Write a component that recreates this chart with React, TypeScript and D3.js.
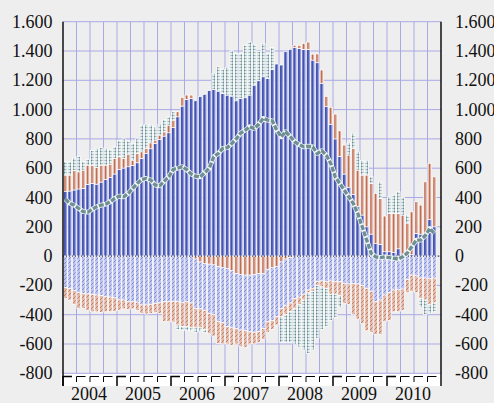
import React from 'react'
import * as d3 from 'd3'

const W = 494
const H = 403

const years = ['2004', '2005', '2006', '2007', '2008', '2009', '2010']
const yTickValues = [-800, -600, -400, -200, 0, 200, 400, 600, 800, 1000, 1200, 1400, 1600]

// monthly values, Jan 2004 - Nov 2010
const blueBars = [440, 444, 451, 458, 462, 489, 496, 491, 505, 523,
  537, 560, 591, 601, 610, 619, 637, 667, 700, 733,
  769, 796, 819, 842, 878, 951, 1024, 1070, 1076, 1060,
  1088, 1104, 1129, 1138, 1126, 1110, 1099, 1092, 1060, 1076,
  1081, 1099, 1167, 1197, 1224, 1213, 1274, 1311, 1304, 1395,
  1411, 1424, 1418, 1411, 1411, 1338, 1320, 1180, 1020, 900,
  800, 680, 560, 470, 420, 340, 280, 200, 150, 85,
  80, 30, 30, 25, 50, 15, 15, 10, 155, 150,
  155, 250, 200]

const salmonBars = [113, 109, 132, 117, 125, 132, 124, 114, 116, 98,
  91, 107, 87, 66, 86, 36, 64, 45, 35, 40,
  23, 30, 29, 52, 50, 34, 59, 29, 23, -20,
  -40, -50, -55, -60, -70, -80, -85, -100, -120, -125,
  -130, -130, -125, -120, -120, -90, -80, -70, -40, -20,
  -10, 15, 20, 40, 50, 40, 60, 90, 70, 115,
  169, 175, 198, 220, 315, 247, 273, 353, 346, 343,
  314, 243, 261, 266, 241, 265, 210, 292, 216, 198,
  352, 383, 341]

const tealBars = [91, 91, 87, 105, 60, 40, 100, 130, 119, 114,
  97, 78, 112, 133, 89, 115, 99, 183, 165, 122,
  88, 74, 82, 56, 57, -30, -25, -30, -20, -30,
  -25, -20, 0, 109, 166, 164, 190, 309, 323, 307,
  359, 364, 280, 200, 227, 170, 150, 0, -176, -190,
  -210, -240, -290, -340, -415, -400, -360, -290, -260, -180,
  -160, -80, 0, 83, 103, 125, 100, 100, 45, 0,
  113, 0, 114, 125, 148, 120, 55, 0, 0, -60,
  -100, -60, -60]

const blueNeg = [-215, -221, -235, -250, -255, -258, -262, -266, -270, -278,
  -280, -285, -300, -300, -312, -312, -315, -334, -334, -330,
  -323, -320, -312, -312, -310, -312, -315, -312, -320, -337,
  -320, -320, -336, -340, -378, -375, -397, -390, -375, -380,
  -380, -387, -395, -397, -374, -358, -360, -344, -317, -320,
  -310, -289, -280, -260, -232, -220, -175, -170, -175, -170,
  -172, -175, -187, -190, -187, -190, -200, -220, -240, -312,
  -300, -266, -250, -232, -230, -225, -160, -130, -135, -150,
  -150, -155, -150]

const salmonNeg = [-75, -79, -95, -107, -102, -112, -118, -114, -115, -102,
  -100, -93, -69, -60, -53, -48, -55, -57, -61, -61,
  -62, -71, -136, -136, -140, -159, -165, -168, -170, -133,
  -130, -130, -139, -146, -148, -145, -118, -120, -105, -114,
  -115, -83, -80, -73, -76, -72, -60, -56, -57, -60,
  -60, -71, -50, -40, -18, -20, -25, -40, -45, -90,
  -88, -95, -136, -140, -213, -240, -260, -290, -280, -223,
  -235, -182, -190, -148, -150, -145, -90, -110, -115, -140,
  -150, -175, -170]

const lineValues = [390, 360, 348, 325, 303, 300, 320, 337, 348, 355,
  371, 394, 410, 405, 428, 462, 496, 523, 530, 520,
  485, 480, 512, 541, 592, 600, 610, 590, 560, 545,
  541, 570, 600, 678, 700, 735, 740, 769, 800, 840,
  860, 883, 870, 900, 940, 928, 923, 860, 815, 850,
  815, 780, 760, 746, 750, 746, 700, 720, 689, 633,
  541, 496, 450, 405, 360, 291, 200, 109, 18, -5,
  -10, -5, -10, -15, -20, -5, 20, 64, 109, 110,
  140, 189, 155]

const fmt = d3.formatLocale({
  decimal: ',', thousands: '.', grouping: [3], currency: ['', ''], minus: '-',
}).format(',d')

const App = () => {
  const left = 63
  const right = 441
  const months = d3.range(years.length * 12)

  const x = d3.scaleBand<number>().domain(months).range([left, right]).padding(0)
  const y = d3.scaleLinear().domain([-800, 1600]).range([373.3, 21.7])
  const bw = x.bandwidth()

  const rows = blueBars.map((v, i) => ({
    A: v, B: salmonBars[i], D: blueNeg[i], E: salmonNeg[i], C: tealBars[i],
  }))
  const keys = ['A', 'B', 'D', 'E', 'C']
  const stacked = d3.stack<any>().keys(keys).offset(d3.stackOffsetDiverging)(rows)

  const fills: Record<string, string> = {
    A: '#4453b2', B: '#dcae9b', D: 'url(#pD)', E: 'url(#pE)', C: 'url(#pC)',
  }

  const line = d3.line<number>()
    .x((_, i) => (x(i) as number) + bw / 2)
    .y(v => y(v))

  const quarters = d3.range(0, years.length * 12 + 1, 3)
  const textStyle = { fontFamily: 'Liberation Serif, Times New Roman, serif', fontSize: '18px' }

  return (
    <svg width={W} height={H} style={{ position: 'absolute', left: 0, top: 0 }}>
      <defs>
        <pattern id="pC" patternUnits="userSpaceOnUse" width="3" height="3">
          <rect width="3" height="3" fill="#e3ebed" />
          <rect x="0" y="1" width="3" height="1" fill="#a8bfc2" />
          <rect x="1" y="0" width="1" height="3" fill="#a8bfc2" />
          <rect x="1" y="1" width="1" height="1" fill="#6c8e92" />
        </pattern>
        <pattern id="pD" patternUnits="userSpaceOnUse" width="4" height="4">
          <rect width="4" height="4" fill="#bcc2ee" />
          <path d="M-1,1 L1,-1 M0,4 L4,0 M3,5 L5,3" stroke="#6a76c9" strokeWidth="0.7" />
        </pattern>
        <pattern id="pE" patternUnits="userSpaceOnUse" width="4" height="4">
          <rect width="4" height="4" fill="#e3baa8" />
          <path d="M-1,1 L1,-1 M0,4 L4,0 M3,5 L5,3" stroke="#b5654f" strokeWidth="0.7" />
        </pattern>
      </defs>

      <rect width={W} height={H} fill="#eeeeee" />

      {/* grid */}
      {yTickValues.map(t => (
        <line key={'h' + t} x1={left} x2={right} y1={y(t)} y2={y(t)} stroke="#a9a9e6" strokeWidth={1} />
      ))}
      {quarters.slice(1, -1).map(q => (
        <line key={'v' + q} x1={x(q)} x2={x(q)} y1={y(1600)} y2={y(-800)} stroke="#a9a9e6" strokeWidth={1} />
      ))}

      {/* stacked bars */}
      {stacked.map(layer => (
        <g key={layer.key}>
          {layer.map((d, i) => {
            const y0 = y(d[0])
            const y1 = y(d[1])
            const h = Math.abs(y0 - y1)
            if (h < 0.2) return null
            const bx = (x(i) as number) + 0.4
            const top = Math.min(y0, y1)
            return (
              <g key={i}>
                <rect x={bx} y={top} width={bw - 0.8} height={h}
                  fill={fills[layer.key]} stroke="#ffffff" strokeWidth={0.7} />
                {layer.key === 'A' && (
                  <rect x={bx + bw - 2.1} y={top + 0.4} width={1} height={Math.max(h - 0.8, 0)} fill="#9ba6e0" />
                )}
                {layer.key === 'B' && (
                  <rect x={bx + 1.2} y={top + 0.4} width={0.7} height={Math.max(h - 0.8, 0)} fill="#b34e36" />
                )}
              </g>
            )
          })}
        </g>
      ))}

      {/* zero line */}
      <line x1={left} x2={right} y1={y(0)} y2={y(0)} stroke="#222" strokeWidth={1} strokeDasharray="1 2" />

      {/* line series */}
      <path d={line(lineValues) || ''} fill="none" stroke="#f4f6f6" strokeWidth={4.8} strokeLinejoin="round" />
      <path d={line(lineValues) || ''} fill="none" stroke="#6f9093" strokeWidth={3.4} strokeDasharray="5 1.6" />

      {/* bottom band with ticks */}
      <rect x={left - 2} y={374} width={right - left + 3} height={12} fill="#ffffff" />
      {quarters.slice(0, -1).map(q => {
        const qx = x(q) as number
        const isYear = q % 12 === 0
        return (
          <path key={'t' + q} d={`M${qx},${isYear ? 386 : 382}V376.5H${qx + 9}`}
            fill="none" stroke="#000" strokeWidth={isYear ? 1.5 : 1} />
        )
      })}

      {/* axes */}
      <line x1={left} x2={left} y1={y(1600)} y2={386} stroke="#000" strokeWidth={1.4} />
      <line x1={right} x2={right} y1={y(1600)} y2={386} stroke="#000" strokeWidth={1.4} />

      {yTickValues.map(t => (
        <g key={'l' + t}>
          <text x={52.5} y={y(t) + 6} textAnchor="end" style={textStyle} fill="#111">{fmt(t)}</text>
          <text x={455} y={y(t) + 6} textAnchor="start" style={textStyle} fill="#111">{fmt(t)}</text>
        </g>
      ))}

      {years.map((yr, k) => {
        const x0 = x(k * 12) as number
        const x1 = k * 12 + 12 < months.length ? (x(k * 12 + 12) as number) : right
        return (
          <text key={yr} x={(x0 + x1) / 2 - 1} y={400} textAnchor="middle" style={textStyle} fill="#111">{yr}</text>
        )
      })}
    </svg>
  )
}

export default App
